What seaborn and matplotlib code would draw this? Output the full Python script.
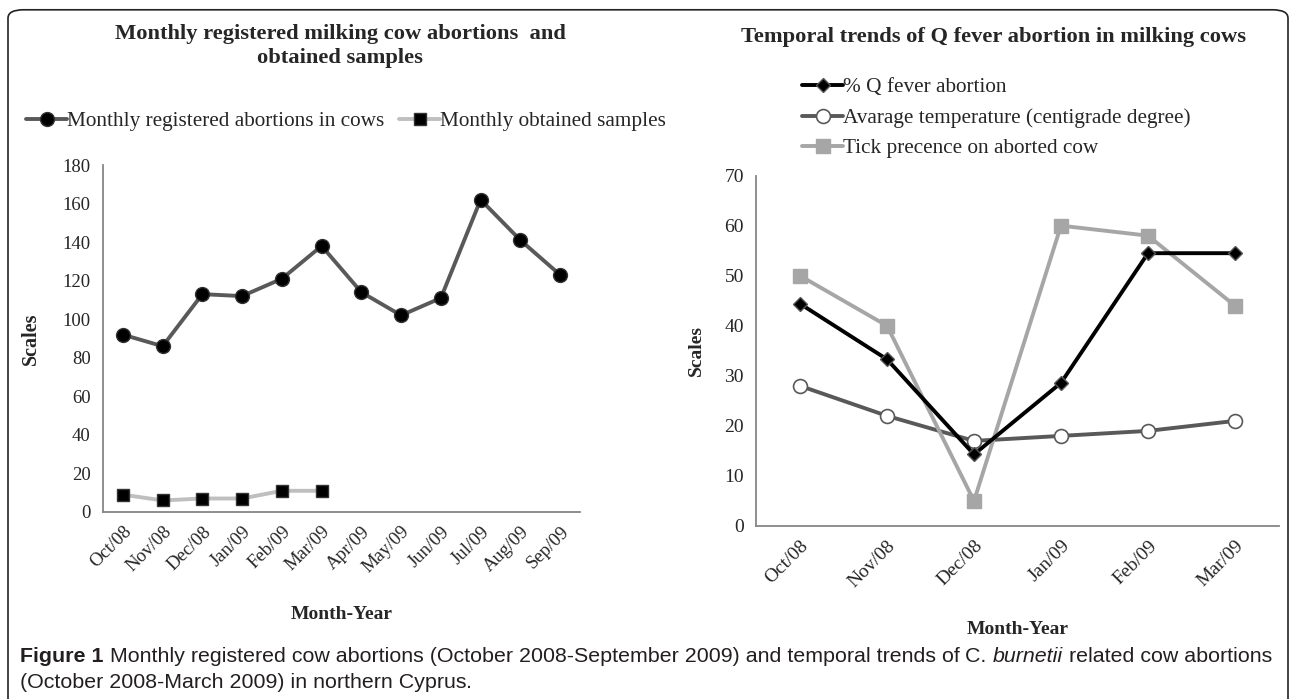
import numpy as np
import pandas as pd
import matplotlib
matplotlib.use("Agg")
import matplotlib.pyplot as plt
from matplotlib.patches import FancyBboxPatch
import seaborn as sns

# left panel: monthly abortions and samples
months_all = ["Oct/08", "Nov/08", "Dec/08", "Jan/09", "Feb/09", "Mar/09",
              "Apr/09", "May/09", "Jun/09", "Jul/09", "Aug/09", "Sep/09"]
abortions = [92, 86, 113, 112, 121, 138, 114, 102, 111, 162, 141, 123]
samples = [9, 6, 7, 7, 11, 11]

# right panel: Q fever trends
months_q = ["Oct/08", "Nov/08", "Dec/08", "Jan/09", "Feb/09", "Mar/09"]
q_fever = [44.4, 33.3, 14.3, 28.6, 54.5, 54.5]
temperature = [28, 22, 17, 18, 19, 21]
ticks_presence = [50, 40, 5, 60, 58, 44]

sns.set_style("white")
plt.rcParams["font.family"] = ["Liberation Serif", "DejaVu Serif"]

AXIS_GRAY = "#868686"
W, H = 1290, 699

fig = plt.figure(figsize=(12.9, 6.99), dpi=100)

# rounded border, bottom edge runs off the page like in the scan
box = FancyBboxPatch((8 / W, -0.05), 1280 / W, 1.036, boxstyle="round,pad=0,rounding_size=0.012",
                     transform=fig.transFigure, fill=False, edgecolor="#222222", linewidth=1.2)
fig.patches.append(box)


def style_axes(ax, n, ymax, ystep, fs):
    ax.set_xlim(-0.5, n - 0.5)
    ax.set_ylim(0, ymax)
    ax.set_yticks(np.arange(0, ymax + 1, ystep))
    for s in ["top", "right"]:
        ax.spines[s].set_visible(False)
    for s in ["left", "bottom"]:
        ax.spines[s].set_color(AXIS_GRAY)
        ax.spines[s].set_linewidth(1.3)
    # excel style: ticks between categories, labels at the centres
    ax.set_xticks(np.arange(-0.5, n, 1.0))
    ax.set_xticklabels([])
    ax.tick_params(axis="x", which="major", length=6, width=1.2, color=AXIS_GRAY, direction="out")
    ax.tick_params(axis="y", length=5, width=1.2, color=AXIS_GRAY, direction="out",
                   labelsize=fs, pad=4)
    ax.set_xticks(np.arange(n), minor=True)
    ax.tick_params(axis="x", which="minor", length=0, labelsize=fs, pad=8)


def leg(ax, x_px, y_px, **kw):
    ax.legend(loc="center left", bbox_to_anchor=(x_px / W, 1 - y_px / H),
              bbox_transform=fig.transFigure, frameon=False, fontsize=15.3,
              handlelength=1.93, handletextpad=0.0, borderpad=0, borderaxespad=0, **kw)


# ---- left chart ----
ax1 = fig.add_axes([103 / W, 1 - 512 / H, 477 / W, 347 / H])
x_all = np.arange(len(months_all))
df_ab = pd.DataFrame({"x": x_all, "y": abortions})
df_sm = pd.DataFrame({"x": x_all[:len(samples)], "y": samples})
sns.lineplot(data=df_ab, x="x", y="y", ax=ax1, color="#595959", linewidth=2.8,
             marker="o", markersize=10, markerfacecolor="black", markeredgecolor="#333333",
             markeredgewidth=1, label="Monthly registered abortions in cows")
sns.lineplot(data=df_sm, x="x", y="y", ax=ax1, color="#bfbfbf", linewidth=2.8,
             marker="s", markersize=9, markerfacecolor="black", markeredgecolor="#333333",
             markeredgewidth=1, label="Monthly obtained samples")
style_axes(ax1, len(months_all), 180, 20, 13.5)
ax1.set_xticklabels(months_all, minor=True, rotation=45, ha="right", rotation_mode="anchor")
ax1.set_xlabel("Month-Year", fontsize=14, fontweight="bold")
ax1.set_ylabel("Scales", fontsize=14.5, fontweight="bold")
ax1.xaxis.set_label_coords(0.5, -0.272)
ax1.yaxis.set_label_coords(-0.13, 0.5)
leg(ax1, 26, 121, ncol=2, columnspacing=0.7)
fig.text(340 / W, 1 - 46 / H, "Monthly registered milking cow abortions  and\nobtained samples",
         fontsize=16.2, fontweight="bold", ha="center", va="center", linespacing=1.25)

# ---- right chart ----
ax2 = fig.add_axes([756.5 / W, 1 - 526 / H, 522 / W, 350.4 / H])
x_q = np.arange(len(months_q))
df_q = pd.DataFrame({"x": x_q, "q": q_fever, "t": temperature, "k": ticks_presence})
sns.lineplot(data=df_q, x="x", y="q", ax=ax2, color="black", linewidth=2.8,
             marker="D", markersize=7.5, markerfacecolor="black", markeredgecolor="#555555",
             markeredgewidth=1, label="% Q fever abortion")
sns.lineplot(data=df_q, x="x", y="t", ax=ax2, color="#595959", linewidth=2.8,
             marker="o", markersize=10, markerfacecolor="white", markeredgecolor="#595959",
             markeredgewidth=1.2, label="Avarage temperature (centigrade degree)")
sns.lineplot(data=df_q, x="x", y="k", ax=ax2, color="#a6a6a6", linewidth=2.8,
             marker="s", markersize=10.5, markerfacecolor="#a6a6a6", markeredgecolor="#a6a6a6",
             markeredgewidth=1, label="Tick precence on aborted cow")
ax2.lines[0].set_zorder(5)
style_axes(ax2, len(months_q), 70, 10, 14)
ax2.set_xticklabels(months_q, minor=True, rotation=45, ha="right", rotation_mode="anchor")
ax2.set_xlabel("Month-Year", fontsize=14, fontweight="bold")
ax2.set_ylabel("Scales", fontsize=14, fontweight="bold")
ax2.xaxis.set_label_coords(0.5, -0.272)
ax2.yaxis.set_label_coords(-0.099, 0.5)
leg(ax2, 802, 118, ncol=1, labelspacing=0.5)
fig.text(994 / W, 1 - 37 / H, "Temporal trends of Q fever abortion in milking cows",
         fontsize=16.2, fontweight="bold", ha="center", va="center")

# ---- caption with mixed styles ----
cap_font = ["Liberation Sans", "DejaVu Sans"]
renderer = fig.canvas.get_renderer()


def write_runs(runs, x0, y, size):
    x = x0
    for txt, weight, style in runs:
        t = fig.text(x, y, txt, fontsize=size, fontweight=weight, fontstyle=style,
                     family=cap_font, color="#231f20", va="baseline", ha="left")
        bb = t.get_window_extent(renderer=renderer)
        x += bb.width / fig.bbox.width


line1 = [("Figure 1", "bold", "normal"),
         (" Monthly registered cow abortions (October 2008-September 2009) and temporal trends of ", "normal", "normal"),
         ("C. ", "normal", "normal"), ("burnetii", "normal", "italic"),
         (" related cow abortions", "normal", "normal")]
line2 = [("(October 2008-March 2009) in northern Cyprus", "normal", "normal"), (".", "normal", "normal")]
write_runs(line1, 20 / W, 0.053, 15.4)
write_runs(line2, 20 / W, 0.016, 15.4)

fig.savefig("out.png", dpi=100)
